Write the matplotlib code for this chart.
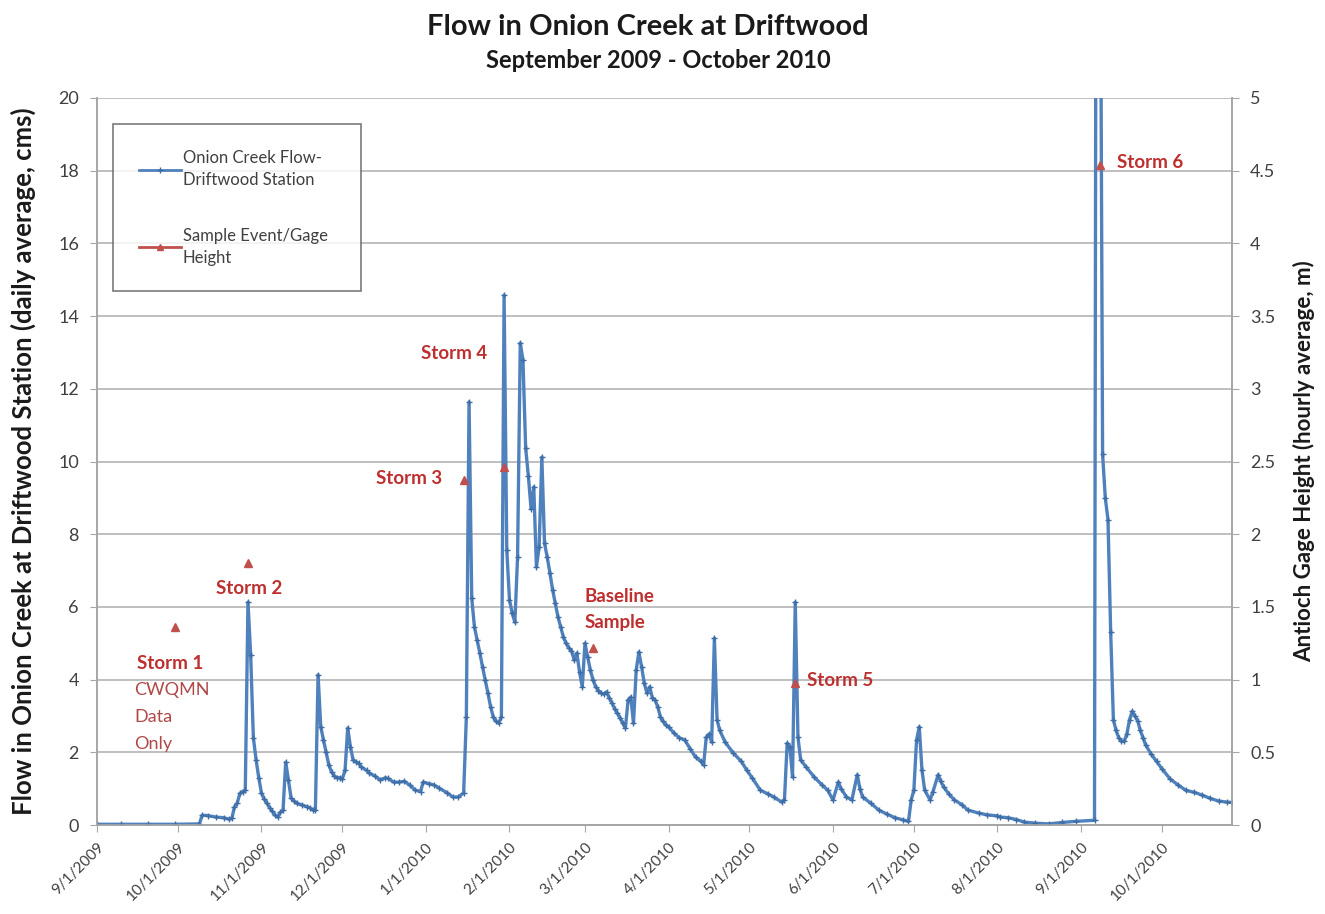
import matplotlib.pyplot as plt
from matplotlib.lines import Line2D
import numpy as np
import pandas as pd

plt.rcParams['font.family'] = ['Lato', 'DejaVu Sans']

# daily average flow at the Driftwood station (cms)
flow_dates = [
    '2009-09-01', '2009-09-10', '2009-09-20', '2009-09-30', '2009-10-09', '2009-10-10',
    '2009-10-12', '2009-10-15', '2009-10-18', '2009-10-20', '2009-10-21', '2009-10-22',
    '2009-10-23', '2009-10-24', '2009-10-25', '2009-10-26', '2009-10-27', '2009-10-28',
    '2009-10-29', '2009-10-30', '2009-10-31', '2009-11-01', '2009-11-02', '2009-11-03',
    '2009-11-04', '2009-11-05', '2009-11-06', '2009-11-07', '2009-11-08', '2009-11-09',
    '2009-11-10', '2009-11-11', '2009-11-12', '2009-11-13', '2009-11-14', '2009-11-16',
    '2009-11-18', '2009-11-19', '2009-11-20', '2009-11-21', '2009-11-22', '2009-11-23',
    '2009-11-24', '2009-11-25', '2009-11-26', '2009-11-27', '2009-11-28', '2009-11-29',
    '2009-11-30', '2009-12-01', '2009-12-02', '2009-12-03', '2009-12-04', '2009-12-05',
    '2009-12-06', '2009-12-07', '2009-12-08', '2009-12-10', '2009-12-11', '2009-12-13',
    '2009-12-15', '2009-12-17', '2009-12-18', '2009-12-20', '2009-12-22', '2009-12-24',
    '2009-12-26', '2009-12-28', '2009-12-30', '2009-12-31', '2010-01-02', '2010-01-04',
    '2010-01-06', '2010-01-09', '2010-01-11', '2010-01-13', '2010-01-15', '2010-01-16',
    '2010-01-17', '2010-01-18', '2010-01-19', '2010-01-20', '2010-01-21', '2010-01-22',
    '2010-01-23', '2010-01-24', '2010-01-25', '2010-01-26', '2010-01-27', '2010-01-28',
    '2010-01-29', '2010-01-30', '2010-01-31', '2010-02-01', '2010-02-02', '2010-02-03',
    '2010-02-04', '2010-02-05', '2010-02-06', '2010-02-07', '2010-02-08', '2010-02-09',
    '2010-02-10', '2010-02-11', '2010-02-12', '2010-02-13', '2010-02-14', '2010-02-15',
    '2010-02-16', '2010-02-17', '2010-02-18', '2010-02-19', '2010-02-20', '2010-02-21',
    '2010-02-22', '2010-02-23', '2010-02-24', '2010-02-25', '2010-02-26', '2010-02-27',
    '2010-02-28', '2010-03-01', '2010-03-02', '2010-03-03', '2010-03-04', '2010-03-05',
    '2010-03-06', '2010-03-07', '2010-03-08', '2010-03-09', '2010-03-10', '2010-03-11',
    '2010-03-12', '2010-03-13', '2010-03-14', '2010-03-15', '2010-03-16', '2010-03-17',
    '2010-03-18', '2010-03-19', '2010-03-20', '2010-03-21', '2010-03-22', '2010-03-23',
    '2010-03-24', '2010-03-25', '2010-03-26', '2010-03-27', '2010-03-28', '2010-03-29',
    '2010-03-30', '2010-03-31', '2010-04-01', '2010-04-03', '2010-04-05', '2010-04-07',
    '2010-04-09', '2010-04-11', '2010-04-13', '2010-04-14', '2010-04-15', '2010-04-16',
    '2010-04-17', '2010-04-18', '2010-04-19', '2010-04-20', '2010-04-22', '2010-04-25',
    '2010-04-28', '2010-04-30', '2010-05-02', '2010-05-05', '2010-05-08', '2010-05-10',
    '2010-05-13', '2010-05-14', '2010-05-15', '2010-05-16', '2010-05-17', '2010-05-18',
    '2010-05-19', '2010-05-20', '2010-05-22', '2010-05-25', '2010-05-28', '2010-05-30',
    '2010-06-01', '2010-06-03', '2010-06-04', '2010-06-06', '2010-06-08', '2010-06-10',
    '2010-06-11', '2010-06-12', '2010-06-15', '2010-06-18', '2010-06-21', '2010-06-24',
    '2010-06-27', '2010-06-29', '2010-06-30', '2010-07-01', '2010-07-02', '2010-07-03',
    '2010-07-04', '2010-07-05', '2010-07-07', '2010-07-08', '2010-07-10', '2010-07-11',
    '2010-07-12', '2010-07-14', '2010-07-16', '2010-07-19', '2010-07-21', '2010-07-25',
    '2010-07-28', '2010-08-01', '2010-08-02', '2010-08-05', '2010-08-08', '2010-08-11',
    '2010-08-15', '2010-08-20', '2010-08-25', '2010-08-30', '2010-09-06', '2010-09-07',
    '2010-09-08', '2010-09-09', '2010-09-10', '2010-09-11', '2010-09-12', '2010-09-13',
    '2010-09-14', '2010-09-15', '2010-09-16', '2010-09-17', '2010-09-18', '2010-09-19',
    '2010-09-20', '2010-09-21', '2010-09-22', '2010-09-23', '2010-09-24', '2010-09-25',
    '2010-09-27', '2010-09-29', '2010-10-01', '2010-10-04', '2010-10-07', '2010-10-10',
    '2010-10-13', '2010-10-16', '2010-10-19', '2010-10-22', '2010-10-25', '2010-10-27',
]
flow_cms = [
    0.02, 0.02, 0.02, 0.02, 0.03, 0.27,
    0.26, 0.22, 0.20, 0.16, 0.18, 0.50,
    0.60, 0.87, 0.92, 0.95, 6.13, 4.68,
    2.40, 1.80, 1.30, 0.88, 0.72, 0.60,
    0.48, 0.38, 0.27, 0.22, 0.35, 0.40,
    1.73, 1.24, 0.74, 0.66, 0.60, 0.55,
    0.50, 0.47, 0.42, 0.40, 4.13, 2.70,
    2.34, 2.00, 1.65, 1.46, 1.35, 1.30,
    1.30, 1.27, 1.50, 2.67, 2.15, 1.79,
    1.74, 1.70, 1.60, 1.50, 1.43, 1.35,
    1.24, 1.30, 1.28, 1.18, 1.18, 1.20,
    1.10, 0.96, 0.92, 1.18, 1.14, 1.10,
    1.01, 0.88, 0.77, 0.77, 0.88, 2.97,
    11.64, 6.24, 5.45, 5.09, 4.73, 4.35,
    3.99, 3.63, 3.25, 2.97, 2.85, 2.80,
    2.97, 14.58, 7.56, 6.19, 5.83, 5.58,
    7.37, 13.26, 12.79, 10.37, 9.60, 8.70,
    9.30, 7.10, 7.65, 10.12, 7.75, 7.37,
    6.93, 6.47, 6.10, 5.72, 5.45, 5.17,
    5.00, 4.87, 4.80, 4.54, 4.73, 4.20,
    3.80, 5.00, 4.62, 4.26, 3.99, 3.80,
    3.70, 3.63, 3.60, 3.66, 3.50, 3.36,
    3.20, 3.08, 2.95, 2.80, 2.67, 3.44,
    3.52, 2.80, 4.26, 4.76, 4.35, 3.90,
    3.63, 3.80, 3.50, 3.44, 3.25, 2.97,
    2.85, 2.75, 2.70, 2.53, 2.40, 2.34,
    2.10, 1.87, 1.75, 1.65, 2.42, 2.50,
    2.28, 5.14, 2.89, 2.60, 2.28, 1.98,
    1.75, 1.51, 1.30, 0.96, 0.85, 0.77,
    0.63, 0.70, 2.25, 2.15, 1.32, 6.13,
    2.42, 1.79, 1.60, 1.32, 1.10, 0.96,
    0.69, 1.18, 1.00, 0.77, 0.69, 1.38,
    1.00, 0.77, 0.60, 0.41, 0.30, 0.20,
    0.14, 0.10, 0.69, 0.96, 2.34, 2.70,
    1.51, 0.96, 0.69, 0.90, 1.38, 1.20,
    1.05, 0.85, 0.69, 0.55, 0.41, 0.33,
    0.28, 0.25, 0.22, 0.20, 0.15, 0.08,
    0.05, 0.03, 0.07, 0.10, 0.13, 45.0,
    28.0, 10.20, 9.00, 8.40, 5.30, 2.90,
    2.60, 2.40, 2.30, 2.30, 2.50, 2.90,
    3.13, 3.00, 2.87, 2.60, 2.40, 2.20,
    1.95, 1.75, 1.55, 1.27, 1.10, 0.95,
    0.90, 0.82, 0.73, 0.66, 0.63, 0.62,
]

# sampling events with Antioch gage height (hourly average, m)
sample_dates = ['2009-09-30', '2009-10-27', '2010-01-15', '2010-01-30',
                '2010-03-04', '2010-05-18', '2010-09-08']
sample_gage_m = [1.36, 1.80, 2.37, 2.46, 1.22, 0.98, 4.54]
sample_labels = ['Storm 1', 'Storm 2', 'Storm 3', 'Storm 4',
                 'Baseline\nSample', 'Storm 5', 'Storm 6']
label_offsets = [(-5, -36), (1, -25), (-55, 2), (-50, 114),
                 (-9, 38), (12, 2), (17, 2)]
label_align = ['center', 'center', 'center', 'center', 'left', 'left', 'left']

tick_labels = ['9/1/2009', '10/1/2009', '11/1/2009', '12/1/2009', '1/1/2010',
               '2/1/2010', '3/1/2010', '4/1/2010', '5/1/2010', '6/1/2010',
               '7/1/2010', '8/1/2010', '9/1/2010', '10/1/2010']

flow_x = pd.to_datetime(flow_dates)
sample_x = pd.to_datetime(sample_dates)
tick_x = pd.to_datetime(tick_labels, format='%m/%d/%Y')

blue = '#4F81BD'
red = '#C0504D'
label_red = '#BE2F2F'
grid_c = '#B4B4B4'
axis_c = '#A6A6A6'
text_c = '#404040'

fig = plt.figure(figsize=(13.25, 9.14), dpi=100)
ax = fig.add_axes([97 / 1325, 1 - 825 / 914, (1232 - 97) / 1325, (825 - 98) / 914])
ax2 = ax.twinx()

ax.plot(flow_x, flow_cms, color=blue, lw=2.4, marker='+', ms=4, mew=1,
        mec='#3E6DA6', zorder=3)
ax2.plot(sample_x, sample_gage_m, ls='none', marker='^', ms=6, color=red, zorder=4)

for d, g, lab, off, ha in zip(sample_x, sample_gage_m, sample_labels, label_offsets, label_align):
    ax2.annotate(lab, xy=(d, g), xytext=off, textcoords='offset pixels',
                 ha=ha, va='center', fontsize=13.5, fontweight='bold', color=label_red,
                 linespacing=1.65)

# note under the first storm
ax2.annotate('CWQMN\nData\nOnly', xy=(sample_x[0], sample_gage_m[0]), xytext=(-41, -55),
             textcoords='offset pixels', ha='left', va='top', fontsize=13,
             color='#B04848', linespacing=1.85)

ax.set_xlim(pd.Timestamp('2009-09-01'), pd.Timestamp('2010-10-27'))
ax.set_ylim(0, 20)
ax.set_yticks(np.arange(0, 21, 2))
ax2.set_ylim(0, 5)
ax2.set_yticks(np.arange(0, 5.01, 0.5))
ax2.set_yticklabels(['0', '0.5', '1', '1.5', '2', '2.5', '3', '3.5', '4', '4.5', '5'])

ax.set_xticks(tick_x)
ax.set_xticklabels(tick_labels, rotation=45, ha='right', rotation_mode='anchor')

ax.grid(axis='y', color=grid_c, lw=1.2)
ax.set_axisbelow(True)
for a in (ax, ax2):
    a.spines['top'].set_visible(False)
    for s in ('left', 'right', 'bottom'):
        a.spines[s].set_color(axis_c)
        a.spines[s].set_linewidth(1.2)
ax.tick_params(axis='y', labelsize=13, colors=text_c, length=5, color=axis_c, pad=8)
ax.tick_params(axis='x', labelsize=11, colors=text_c, length=5, color=axis_c, pad=6)
ax2.tick_params(axis='y', labelsize=13, colors=text_c, length=5, color=axis_c, pad=8)

ax.set_ylabel('Flow in Onion Creek at Driftwood Station (daily average, cms)',
              fontsize=18.5, fontweight='bold', color='#1a1a1a', labelpad=16)
ax2.set_ylabel('Antioch Gage Height (hourly average, m)',
               fontsize=16, fontweight='bold', color='#1a1a1a', labelpad=13)

fig.text(648 / 1325, 1 - 27 / 914, 'Flow in Onion Creek at Driftwood', ha='center',
         va='center', fontsize=21, fontweight='bold', color='#1a1a1a')
fig.text(658 / 1325, 1 - 60 / 914, 'September 2009 - October 2010', ha='center',
         va='center', fontsize=17, fontweight='bold', color='#1a1a1a')

handles = [
    Line2D([], [], color=blue, lw=2, marker='+', ms=4, mec='#3E6DA6'),
    Line2D([], [], color=red, lw=2, marker='^', ms=5),
]
leg = ax2.legend(handles, ['Onion Creek Flow-\nDriftwood Station', 'Sample Event/Gage\nHeight'],
                 loc='upper left', mode='expand',
                 bbox_to_anchor=(113 / 1325, 1 - 125 / 914, 248 / 1325, 0.001),
                 bbox_transform=fig.transFigure, fontsize=12, frameon=True, fancybox=False,
                 edgecolor='#595959', labelspacing=2.4, handlelength=2.5, handletextpad=0.15,
                 borderpad=1.55, borderaxespad=0)
leg.get_frame().set_linewidth(1.2)
for t in leg.get_texts():
    t.set_color(text_c)
    t.set_linespacing(1.45)

fig.savefig('out.png', dpi=100)
